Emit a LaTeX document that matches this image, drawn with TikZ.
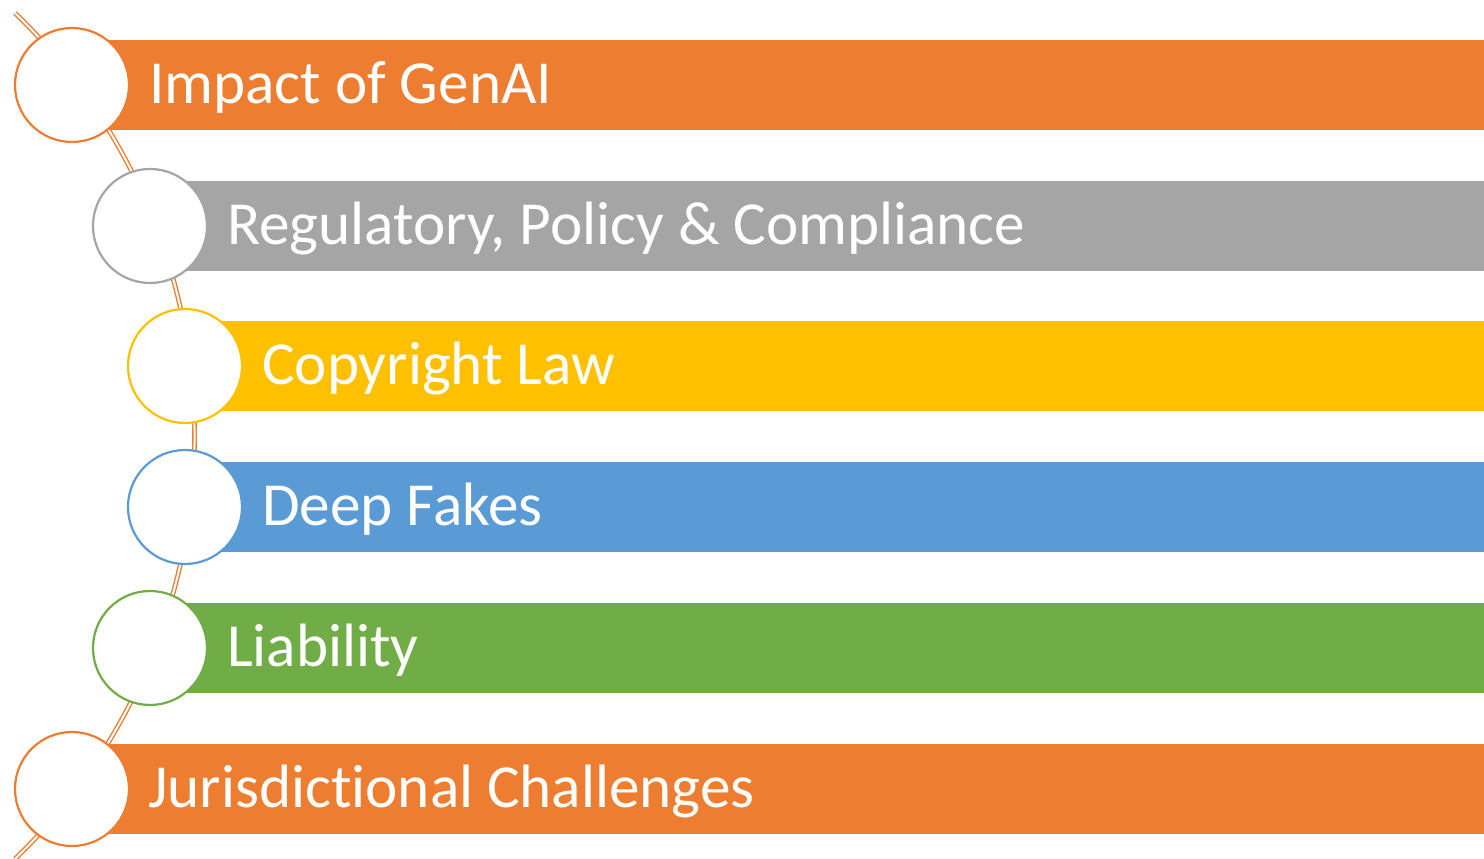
\documentclass[tikz,border=0pt]{standalone}
\usepackage{fontspec}
\setmainfont{Carlito}[Ligatures={NoCommon}]
\definecolor{corange}{HTML}{ED7D31}
\definecolor{cgray}{HTML}{A5A5A5}
\definecolor{cyellow}{HTML}{FFC000}
\definecolor{cblue}{HTML}{5B9BD5}
\definecolor{cgreen}{HTML}{70AD47}
\begin{document}
\begin{tikzpicture}[x=1pt,y=1pt,
  bar/.style={fill=#1, draw=none},
  ring/.style={circle, draw=#1, line width=2.2pt, fill=white, minimum size=114pt, inner sep=0pt},
  label/.style={anchor=base west, text=white, font=\fontsize{61.2}{68}\selectfont, inner sep=0pt},
  spine/.style={draw=corange, double=white, line width=1.4pt, double distance=2pt}]
\useasboundingbox (0,0) rectangle (1484,859);
% spine
\coordinate (top) at (15,846);
\draw[spine] (top) arc[start angle=46, end angle=-46, radius=588pt] coordinate (bot);
% bars
\fill[bar=corange] (72,729) rectangle (1484,819);
\fill[bar=cgray] (150,588) rectangle (1484,678);
\fill[bar=cyellow] (185,448) rectangle (1484,538);
\fill[bar=cblue] (185,307) rectangle (1484,397);
\fill[bar=cgreen] (150,166) rectangle (1484,256);
\fill[bar=corange] (72,25) rectangle (1484,115);
% circles
\node[ring=corange] (c1) at (72,774) {};
\node[ring=cgray] (c2) at (150,633) {};
\node[ring=cyellow] (c3) at (185,493) {};
\node[ring=cblue] (c4) at (185,352) {};
\node[ring=cgreen] (c5) at (150,211) {};
\node[ring=corange] (c6) at (72,70) {};
% labels
\node[label] (t1) at (149,755) {Impact of GenAI};
\node[label] (t2) at (227,614) {Regulatory, Policy \& Compliance};
\node[label] (t3) at (262,474) {Copyright Law};
\node[label] (t4) at (262,333) {Deep Fakes};
\node[label] (t5) at (227,192) {Liability};
\node[label] (t6) at (148,51) {Jurisdictional Challenges};
\end{tikzpicture}
\end{document}
